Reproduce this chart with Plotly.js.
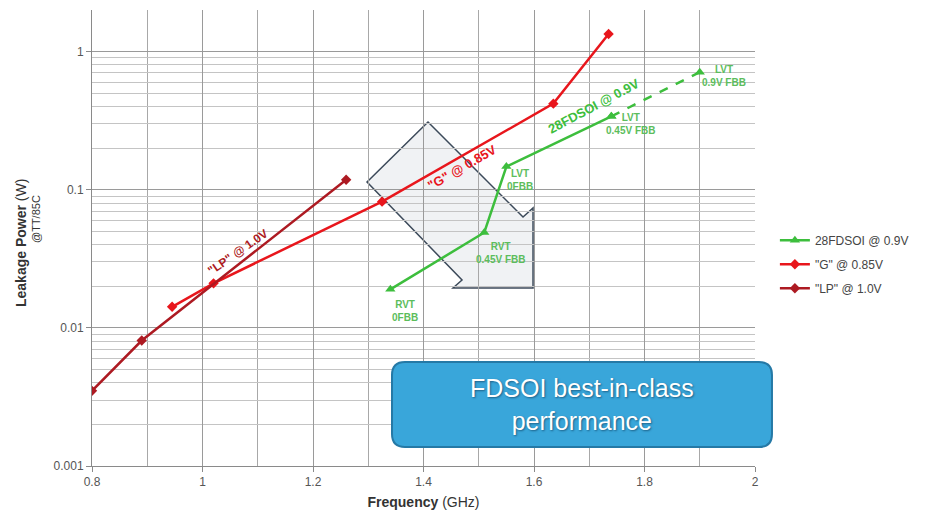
<!DOCTYPE html>
<html>
<head>
<meta charset="utf-8">
<script src="https://cdn.plot.ly/plotly-3.0.1.min.js"></script>
<style>
  html, body { margin: 0; padding: 0; background: #fff; }
  #chart { width: 928px; height: 517px; }
</style>
</head>
<body>
<div id="chart"></div>
<script>
// Leakage power (W, @TT/85C) versus frequency (GHz)
const lpFreq = [0.8, 0.89, 1.26];
const lpPower = [0.0035, 0.0081, 0.118];

const gFreq = [0.945, 1.02, 1.325, 1.635, 1.735];
const gPower = [0.0142, 0.021, 0.082, 0.42, 1.34];

const fdsoiFreq = [1.34, 1.51, 1.55, 1.74];
const fdsoiPower = [0.019, 0.049, 0.147, 0.34];
const fdsoiLabels = ['RVT<br>0FBB', 'RVT<br>0.45V FBB', 'LVT<br>0FBB', 'LVT<br>0.45V FBB'];

// Forward body bias extension (dashed)
const fbbFreq = [1.74, 1.9];
const fbbPower = [0.34, 0.71];
const fbbLabel = 'LVT<br>0.9V FBB';

const seriesNames = ['28FDSOI @ 0.9V', '"G" @ 0.85V', '"LP" @ 1.0V'];
const yTickVals = [0.001, 0.01, 0.1, 1];
const yTickText = ['0.001', '0.01', '0.1', '1'];

const GREEN = '#3dbe3d';
const RED = '#e8161c';
const DARKRED = '#ad1a22';
const LABEL_GREEN = '#5cbd5c';
const FONT = 'Liberation Sans, Arial, sans-serif';

const traces = [
  {
    x: fdsoiFreq, y: fdsoiPower, name: seriesNames[0], legendgroup: 'fdsoi',
    mode: 'lines+markers', line: {color: GREEN, width: 2.5},
    marker: {symbol: 'triangle-up', size: 9, color: GREEN}
  },
  {
    x: fbbFreq, y: fbbPower, name: seriesNames[0], legendgroup: 'fdsoi', showlegend: false,
    mode: 'lines+markers', line: {color: GREEN, width: 2.5, dash: 'dash'},
    marker: {symbol: 'triangle-up', size: 9, color: GREEN}
  },
  {
    x: gFreq, y: gPower, name: seriesNames[1], legendgroup: 'g',
    mode: 'lines+markers', line: {color: RED, width: 2.5},
    marker: {symbol: 'diamond', size: 8, color: RED}
  },
  {
    x: lpFreq, y: lpPower, name: seriesNames[2], legendgroup: 'lp',
    mode: 'lines+markers', line: {color: DARKRED, width: 2.5},
    marker: {symbol: 'diamond', size: 8, color: DARKRED}
  }
];

// Point labels beside the FDSOI markers
const labelShift = [[15, -22], [16, -20], [14, -13], [19, -8]];
const annotations = fdsoiLabels.map((t, i) => ({
  x: fdsoiFreq[i], y: Math.log10(fdsoiPower[i]), xref: 'x', yref: 'y',
  xanchor: 'center', yanchor: 'middle',
  text: '<b>' + t + '</b>', showarrow: false,
  xshift: labelShift[i][0], yshift: labelShift[i][1],
  font: {family: FONT, size: 10, color: LABEL_GREEN}, align: 'center'
}));
annotations.push({
  x: fbbFreq[1], y: Math.log10(fbbPower[1]), xref: 'x', yref: 'y',
  xanchor: 'center', yanchor: 'middle',
  text: '<b>' + fbbLabel + '</b>', showarrow: false, xshift: 24, yshift: -4,
  font: {family: FONT, size: 10, color: LABEL_GREEN}, align: 'center'
});

// helper: pixel -> paper coordinates of the plot area
function px(x) { return (x - 92) / 663; }
function py(y) { return (466 - y) / 456; }

function note(x, y, text, font, extra) {
  return Object.assign({xref: 'paper', yref: 'paper', x: px(x), y: py(y),
    xanchor: 'center', yanchor: 'middle', text: text, showarrow: false, font: font}, extra || {});
}

// Series captions along the curves
annotations.push(
  note(593, 106, '<b>28FDSOI @ 0.9V</b>', {family: FONT, size: 13, color: GREEN}, {textangle: -28}),
  note(462, 168, '<b>"G" @ 0.85V</b>', {family: FONT, size: 13, color: RED}, {textangle: -30}),
  note(238, 252, '<b>"LP" @ 1.0V</b>', {family: FONT, size: 12, color: DARKRED}, {textangle: -35})
);

// Axis title for y, with condition note
annotations.push(
  note(21, 243, '<b>Leakage Power</b> (W)', {family: FONT, size: 14, color: '#333'}, {textangle: -90}),
  note(36, 219, '@TT/85C', {family: FONT, size: 11, color: '#333'}, {textangle: -90})
);

// Callout text
annotations.push(
  note(582, 404, 'FDSOI best-in-class<br>performance',
       {family: FONT, size: 25, color: '#ffffff', shadow: '1px 1px 2px rgba(10,50,80,0.6)'},
       {align: 'center'})
);

function P(x, y) { return px(x).toFixed(4) + ',' + py(y).toFixed(4); }

const arrowPts = [[428, 122], [367, 182], [462, 280], [453, 288], [533, 288], [533, 208], [523, 217]];
const arrowPath = 'M' + arrowPts.map(p => P(p[0], p[1])).join(' L') + ' Z';

function roundRect(x0, y0, x1, y1, r) {
  return 'M' + P(x0 + r, y0) +
    ' L' + P(x1 - r, y0) + ' Q' + P(x1, y0) + ' ' + P(x1, y0 + r) +
    ' L' + P(x1, y1 - r) + ' Q' + P(x1, y1) + ' ' + P(x1 - r, y1) +
    ' L' + P(x0 + r, y1) + ' Q' + P(x0, y1) + ' ' + P(x0, y1 - r) +
    ' L' + P(x0, y0 + r) + ' Q' + P(x0, y0) + ' ' + P(x0 + r, y0) + ' Z';
}

const shapes = [
  {type: 'path', xref: 'paper', yref: 'paper', layer: 'below', path: arrowPath,
   fillcolor: 'rgba(234,236,240,0.7)', line: {color: '#3c4a5a', width: 1.5}},
  {type: 'path', xref: 'paper', yref: 'paper', layer: 'above',
   path: roundRect(392, 362, 772, 447, 13),
   fillcolor: '#39a6da', line: {color: '#2579a6', width: 2}}
];

const layout = {
  width: 928, height: 517,
  margin: {l: 92, r: 173, t: 10, b: 51},
  paper_bgcolor: '#ffffff', plot_bgcolor: 'rgba(0,0,0,0)',
  font: {family: FONT, size: 12, color: '#555'},
  showlegend: true,
  legend: {x: 1.03, y: 0.527, xanchor: 'left', yanchor: 'top',
           font: {family: FONT, size: 12, color: '#444'}, bgcolor: 'rgba(0,0,0,0)',
           tracegroupgap: 5, traceorder: 'grouped'},
  xaxis: {
    range: [0.8, 2], dtick: 0.2, tick0: 0.8,
    showline: true, linecolor: '#8a8a8a', linewidth: 1,
    ticks: 'outside', ticklen: 5, tickcolor: '#8a8a8a',
    showgrid: true, gridcolor: '#9a9a9a', gridwidth: 1, zeroline: false,
    minor: {dtick: 0.1, showgrid: true, gridcolor: '#a8a8a8', ticks: ''},
    tickfont: {family: FONT, size: 12, color: '#555'},
    title: {text: '<b>Frequency</b> (GHz)', standoff: 8, font: {family: FONT, size: 14, color: '#333'}}
  },
  yaxis: {
    type: 'log', range: [-3, Math.log10(2)],
    tickvals: yTickVals, ticktext: yTickText,
    showline: true, linecolor: '#8a8a8a', linewidth: 1,
    ticks: 'outside', ticklen: 5, tickcolor: '#8a8a8a',
    showgrid: true, gridcolor: '#9a9a9a', gridwidth: 1, zeroline: false,
    minor: {dtick: 'D1', showgrid: true, gridcolor: '#c4c4c4', ticks: ''},
    tickfont: {family: FONT, size: 12, color: '#555'}
  },
  shapes: shapes,
  annotations: annotations
};

Plotly.newPlot('chart', traces, layout, {displayModeBar: false, staticPlot: true});
</script>
</body>
</html>
